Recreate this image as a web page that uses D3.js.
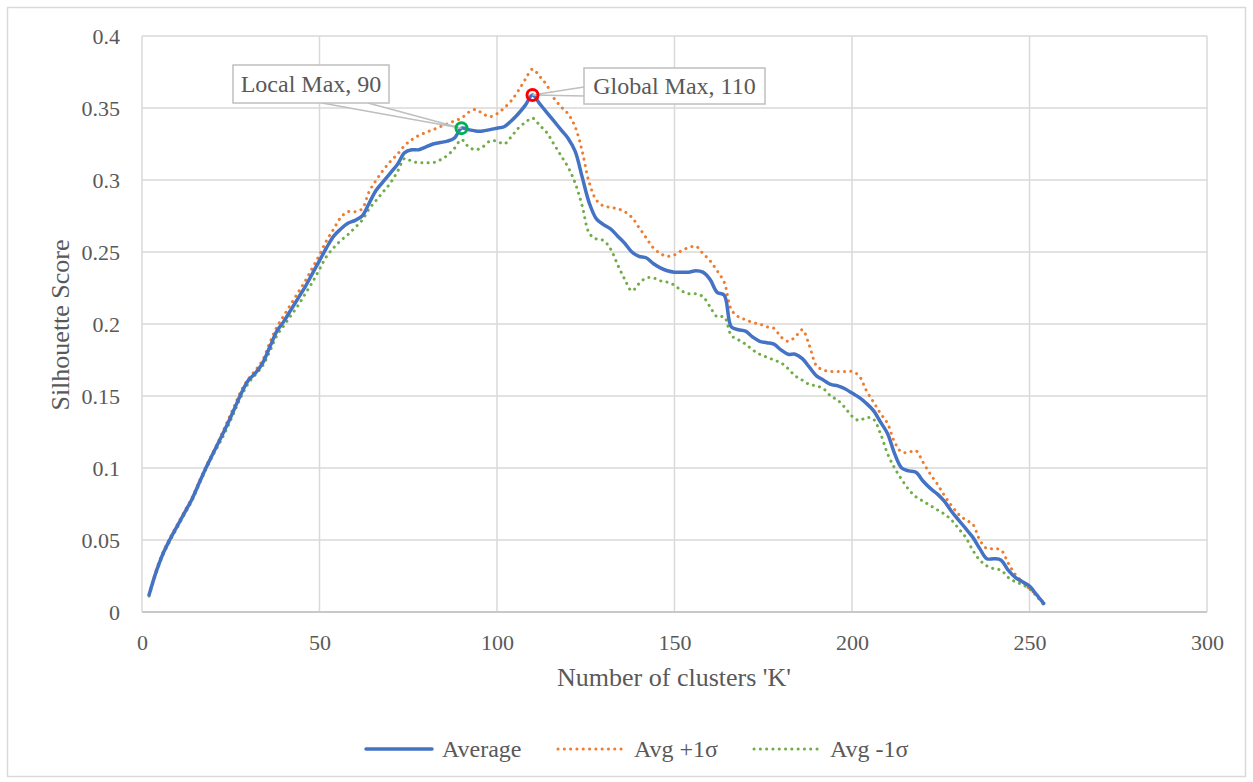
<!DOCTYPE html>
<html>
<head>
<meta charset="utf-8">
<script src="https://cdn.jsdelivr.net/npm/d3@7"></script>
<style>
  body { margin: 0; background: #fff; }
  svg { display: block; }
  svg text { font-family: 'Liberation Serif', 'Times New Roman', serif; }
</style>
</head>
<body>
<svg id="chart" width="1253" height="782"></svg>
<script>
// number of clusters K
const kValues = [
  2, 4, 6, 8, 10, 12, 14, 16, 18, 20, 22, 24, 26, 28, 30, 32, 34, 36, 38, 40,
  42, 44, 46, 48, 50, 52, 54, 56, 58, 60, 62, 64, 66, 68, 70, 72, 74, 76, 78, 80,
  82, 84, 86, 88, 90, 92, 94, 96, 98, 100, 102, 104, 106, 108, 110, 112, 114, 116, 118, 120,
  122, 124, 126, 128, 130, 132, 134, 136, 138, 140, 142, 144, 146, 148, 150, 152, 154, 156, 158, 160,
  162, 164, 166, 168, 170, 172, 174, 176, 178, 180, 182, 184, 186, 188, 190, 192, 194, 196, 198, 200,
  202, 204, 206, 208, 210, 212, 214, 216, 218, 220, 222, 224, 226, 228, 230, 232, 234, 236, 238, 240,
  242, 244, 246, 248, 250, 252, 254
];

const average = [
  0.012, 0.028, 0.041, 0.051, 0.060, 0.069, 0.078, 0.089, 0.100, 0.110, 0.120, 0.130, 0.141, 0.152, 0.161, 0.166, 0.173, 0.184, 0.195, 0.202,
  0.210, 0.218, 0.226, 0.235, 0.244, 0.253, 0.261, 0.266, 0.270, 0.272, 0.275, 0.284, 0.293, 0.299, 0.305, 0.311, 0.319, 0.321, 0.321, 0.323,
  0.325, 0.326, 0.327, 0.329, 0.336, 0.335, 0.334, 0.334, 0.335, 0.336, 0.337, 0.341, 0.346, 0.352, 0.359, 0.353, 0.347, 0.341, 0.335, 0.329,
  0.320, 0.302, 0.284, 0.273, 0.269, 0.266, 0.261, 0.256, 0.250, 0.247, 0.246, 0.242, 0.239, 0.237, 0.236, 0.236, 0.236, 0.237, 0.236, 0.231,
  0.222, 0.220, 0.198, 0.196, 0.195, 0.191, 0.188, 0.187, 0.186, 0.182, 0.179, 0.179, 0.176, 0.170, 0.164, 0.161, 0.158, 0.157, 0.155, 0.152,
  0.149, 0.145, 0.140, 0.132, 0.124, 0.110, 0.100, 0.098, 0.097, 0.091, 0.086, 0.082, 0.077, 0.070, 0.064, 0.058, 0.052, 0.044, 0.037, 0.037,
  0.036, 0.029, 0.024, 0.021, 0.018, 0.012, 0.006
];

const plusSigma = [
  0.012, 0.029, 0.042, 0.052, 0.061, 0.070, 0.079, 0.090, 0.101, 0.111, 0.121, 0.132, 0.143, 0.154, 0.162, 0.168, 0.175, 0.187, 0.198, 0.206,
  0.214, 0.222, 0.230, 0.239, 0.248, 0.258, 0.266, 0.274, 0.278, 0.278, 0.280, 0.292, 0.300, 0.307, 0.313, 0.318, 0.324, 0.328, 0.331, 0.333,
  0.335, 0.337, 0.339, 0.341, 0.343, 0.347, 0.349, 0.346, 0.344, 0.346, 0.350, 0.355, 0.362, 0.370, 0.377, 0.372, 0.366, 0.357, 0.351, 0.346,
  0.337, 0.320, 0.298, 0.286, 0.282, 0.281, 0.280, 0.278, 0.274, 0.267, 0.260, 0.253, 0.249, 0.247, 0.248, 0.251, 0.253, 0.254, 0.249, 0.244,
  0.237, 0.229, 0.210, 0.205, 0.203, 0.201, 0.200, 0.198, 0.197, 0.191, 0.188, 0.191, 0.196, 0.185, 0.171, 0.168, 0.167, 0.167, 0.167, 0.167,
  0.164, 0.154, 0.146, 0.138, 0.131, 0.118, 0.111, 0.111, 0.112, 0.104, 0.096, 0.089, 0.081, 0.074, 0.068, 0.064, 0.061, 0.050, 0.044, 0.044,
  0.043, 0.034, 0.026, 0.021, 0.016, 0.012, 0.006
];

const minusSigma = [
  0.011, 0.027, 0.040, 0.050, 0.059, 0.068, 0.077, 0.088, 0.099, 0.109, 0.118, 0.128, 0.139, 0.150, 0.159, 0.165, 0.171, 0.181, 0.192, 0.199,
  0.206, 0.213, 0.221, 0.229, 0.238, 0.247, 0.253, 0.258, 0.262, 0.267, 0.272, 0.280, 0.286, 0.292, 0.298, 0.306, 0.315, 0.313, 0.312, 0.312,
  0.312, 0.314, 0.317, 0.322, 0.328, 0.323, 0.321, 0.323, 0.327, 0.327, 0.325, 0.330, 0.336, 0.340, 0.343, 0.338, 0.333, 0.325, 0.317, 0.309,
  0.298, 0.282, 0.263, 0.259, 0.258, 0.252, 0.241, 0.231, 0.223, 0.228, 0.232, 0.232, 0.230, 0.229, 0.227, 0.223, 0.221, 0.221, 0.219, 0.212,
  0.205, 0.205, 0.192, 0.189, 0.186, 0.182, 0.179, 0.177, 0.175, 0.173, 0.169, 0.164, 0.161, 0.158, 0.157, 0.155, 0.150, 0.147, 0.142, 0.136,
  0.133, 0.135, 0.134, 0.124, 0.110, 0.100, 0.092, 0.085, 0.080, 0.077, 0.074, 0.071, 0.068, 0.064, 0.058, 0.052, 0.043, 0.036, 0.032, 0.030,
  0.029, 0.024, 0.021, 0.019, 0.016, 0.011, 0.005
];

const seriesNames = ['Average', 'Avg +1σ', 'Avg -1σ'];
const xTicks = [0, 50, 100, 150, 200, 250, 300];
const yTicks = [0, 0.05, 0.1, 0.15, 0.2, 0.25, 0.3, 0.35, 0.4];
const yTickLabels = ['0', '0.05', '0.1', '0.15', '0.2', '0.25', '0.3', '0.35', '0.4'];

// annotated points: local and global max
const annotK = [90, 110];
const annotText = ['Local Max, 90', 'Global Max, 110'];

const textColor = '#595959';
const gridColor = '#d9d9d9';

const svg = d3.select('#chart');

// outer chart frame
svg.append('rect')
  .attr('x', 7.5).attr('y', 7.5)
  .attr('width', 1238).attr('height', 769)
  .attr('fill', '#fff')
  .attr('stroke', gridColor)
  .attr('stroke-width', 1.5);

const x = d3.scaleLinear().domain([0, 300]).range([142, 1207]);
const y = d3.scaleLinear().domain([0, 0.4]).range([612, 36]);

// gridlines
svg.append('g')
  .selectAll('line')
  .data(yTicks)
  .join('line')
  .attr('x1', x(0)).attr('x2', x(300))
  .attr('y1', d => y(d)).attr('y2', d => y(d))
  .attr('stroke', gridColor)
  .attr('stroke-width', 1.5);

svg.append('g')
  .selectAll('line')
  .data(xTicks)
  .join('line')
  .attr('x1', d => x(d)).attr('x2', d => x(d))
  .attr('y1', y(0)).attr('y2', y(0.4))
  .attr('stroke', gridColor)
  .attr('stroke-width', 1.5);

// bottom axis line
svg.append('line')
  .attr('x1', x(0)).attr('x2', x(300))
  .attr('y1', y(0)).attr('y2', y(0))
  .attr('stroke', '#c8c8c8')
  .attr('stroke-width', 2);

// axes (labels only)
const xAxis = svg.append('g')
  .attr('transform', `translate(0,${y(0)})`)
  .call(d3.axisBottom(x).tickValues(xTicks).tickSize(0).tickPadding(22));
const yAxis = svg.append('g')
  .attr('transform', `translate(${x(0)},0)`)
  .call(d3.axisLeft(y).tickValues(yTicks).tickSize(0).tickPadding(22)
    .tickFormat((d, i) => yTickLabels[i]));

[xAxis, yAxis].forEach(g => {
  g.attr('font-family', null).attr('font-size', null);
  g.select('.domain').remove();
  g.selectAll('text')
    .attr('fill', textColor)
    .style('font-size', '22px');
});

// axis titles
svg.append('text')
  .attr('x', 674).attr('y', 686)
  .attr('text-anchor', 'middle')
  .attr('fill', textColor)
  .style('font-size', '26px')
  .text("Number of clusters 'K'");

svg.append('text')
  .attr('transform', 'translate(69,325) rotate(-90)')
  .attr('text-anchor', 'middle')
  .attr('fill', textColor)
  .style('font-size', '26px')
  .text('Silhouette Score');

// series
const line = d3.line()
  .x(d => x(d[0]))
  .y(d => y(d[1]))
  .curve(d3.curveCatmullRom.alpha(0.5));

const series = [
  { name: seriesNames[1], values: plusSigma, color: '#ed7d31', width: 3, dash: '0.1 6.2' },
  { name: seriesNames[2], values: minusSigma, color: '#70ad47', width: 3, dash: '0.1 6.2' },
  { name: seriesNames[0], values: average, color: '#4472c4', width: 3.5, dash: null }
];

series.forEach(s => {
  svg.append('path')
    .attr('d', line(kValues.map((k, i) => [k, s.values[i]])))
    .attr('fill', 'none')
    .attr('stroke', s.color)
    .attr('stroke-width', s.width)
    .attr('stroke-linecap', 'round')
    .attr('stroke-linejoin', 'round')
    .attr('stroke-dasharray', s.dash);
});

// callouts
const callouts = [
  { box: [233, 65, 156, 38], wedge: [[322, 103], [368, 103]], color: '#00b050' },
  { box: [584, 68, 181, 36], wedge: [[584, 87], [584, 96]], color: '#ff0000' }
];

callouts.forEach((c, i) => {
  const k = annotK[i];
  const px = x(k);
  const py = y(average[kValues.indexOf(k)]);
  svg.append('path')
    .attr('d', `M${c.wedge[0][0]},${c.wedge[0][1]} L${px},${py} L${c.wedge[1][0]},${c.wedge[1][1]}`)
    .attr('fill', '#fff')
    .attr('stroke', '#bfbfbf')
    .attr('stroke-width', 1.5);
  svg.append('rect')
    .attr('x', c.box[0]).attr('y', c.box[1])
    .attr('width', c.box[2]).attr('height', c.box[3])
    .attr('fill', '#fff')
    .attr('stroke', '#bfbfbf')
    .attr('stroke-width', 1.5);
  svg.append('text')
    .attr('x', c.box[0] + c.box[2] / 2)
    .attr('y', c.box[1] + c.box[3] / 2)
    .attr('dy', '0.33em')
    .attr('text-anchor', 'middle')
    .attr('fill', textColor)
    .style('font-size', '24px')
    .text(annotText[i]);
  svg.append('circle')
    .attr('cx', px).attr('cy', py)
    .attr('r', 5.5)
    .attr('fill', 'none')
    .attr('stroke', c.color)
    .attr('stroke-width', 3);
});

// legend
const legendItems = [
  { name: seriesNames[0], color: '#4472c4', width: 3.5, dash: null, x: 366 },
  { name: seriesNames[1], color: '#ed7d31', width: 3, dash: '0.1 6.2', x: 558 },
  { name: seriesNames[2], color: '#70ad47', width: 3, dash: '0.1 6.2', x: 754 }
];

const legend = svg.append('g').attr('transform', 'translate(0,749)');
legendItems.forEach(it => {
  legend.append('line')
    .attr('x1', it.x).attr('x2', it.x + 66)
    .attr('y1', 0).attr('y2', 0)
    .attr('stroke', it.color)
    .attr('stroke-width', it.width)
    .attr('stroke-linecap', 'round')
    .attr('stroke-dasharray', it.dash);
  legend.append('text')
    .attr('x', it.x + 76)
    .attr('y', 0)
    .attr('dy', '0.33em')
    .attr('fill', textColor)
    .style('font-size', '24px')
    .text(it.name);
});
</script>
</body>
</html>
